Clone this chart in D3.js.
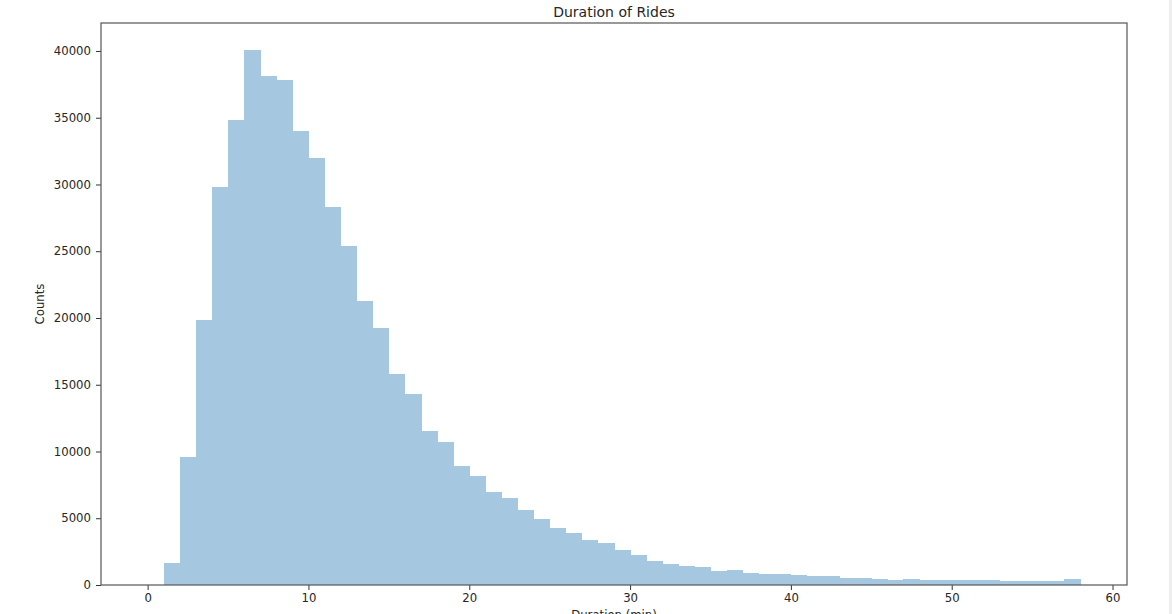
<!DOCTYPE html>
<html>
<head>
<meta charset="utf-8">
<script src="https://cdn.jsdelivr.net/npm/d3@7"></script>
<style>
  body { margin: 0; background: #fff; }
  svg { font-family: "DejaVu Sans", sans-serif; }
</style>
</head>
<body>
<div id="chart"></div>
<script>
// Histogram bins (1 minute wide, lower edge) and counts
var binEdges = [0, 1, 2, 3, 4, 5, 6, 7, 8, 9, 10, 11, 12, 13, 14, 15, 16, 17, 18, 19,
  20, 21, 22, 23, 24, 25, 26, 27, 28, 29, 30, 31, 32, 33, 34, 35, 36, 37, 38, 39,
  40, 41, 42, 43, 44, 45, 46, 47, 48, 49, 50, 51, 52, 53, 54, 55, 56, 57, 58];
var counts = [0, 1680, 9610, 19870, 29840, 34800, 40050, 38150, 37850, 34030,
  31980, 28340, 25420, 21300, 19260, 15830, 14330, 11560, 10740, 8940,
  8190, 6990, 6520, 5620, 4940, 4290, 3890, 3340, 3170, 2590,
  2270, 1800, 1570, 1390, 1320, 1050, 1120, 920, 810, 800,
  750, 640, 640, 550, 550, 450, 380, 470, 380, 370,
  380, 370, 380, 280, 270, 280, 270, 450];
var xTicks = [0, 10, 20, 30, 40, 50, 60];
var yTicks = [0, 5000, 10000, 15000, 20000, 25000, 30000, 35000, 40000];

var width = 1172, height = 614;
var margin = { left: 101, right: 1127, top: 23, bottom: 585 };

var svg = d3.select("#chart").append("svg")
  .attr("width", width)
  .attr("height", height);

// matplotlib style 5% margins around the data
var x = d3.scaleLinear().domain([-2.9, 60.9]).range([margin.left, margin.right]);
var y = d3.scaleLinear().domain([0, 42095]).range([margin.bottom, margin.top]);

var bins = counts.map(function (c, i) {
  return { x0: binEdges[i], x1: binEdges[i + 1], count: c };
});

// Bars
svg.append("g")
  .selectAll("rect")
  .data(bins)
  .enter()
  .append("rect")
  .attr("x", function (d) { return x(d.x0); })
  .attr("width", function (d) { return x(d.x1) - x(d.x0) + 0.5; })
  .attr("y", function (d) { return y(d.count); })
  .attr("height", function (d) { return y(0) - y(d.count); })
  .attr("fill", "#a5c8e0")
  .attr("shape-rendering", "crispEdges");

// X axis
var xAxis = svg.append("g")
  .attr("transform", "translate(0," + margin.bottom + ")")
  .call(d3.axisBottom(x).tickValues(xTicks).tickFormat(d3.format("d"))
    .tickSize(5).tickPadding(4).tickSizeOuter(0));
xAxis.select(".domain").remove();

// Y axis
var yAxis = svg.append("g")
  .attr("transform", "translate(" + margin.left + ",0)")
  .call(d3.axisLeft(y).tickValues(yTicks).tickFormat(d3.format("d"))
    .tickSize(5).tickPadding(5).tickSizeOuter(0));
yAxis.select(".domain").remove();

[xAxis, yAxis].forEach(function (g) {
  g.selectAll("text")
    .style("font-family", "DejaVu Sans, sans-serif")
    .style("font-size", "11.7px")
    .attr("fill", "#262626");
  g.selectAll("line").attr("stroke", "#333").attr("stroke-width", 1);
});

// Frame round the plot area
svg.append("rect")
  .attr("x", margin.left)
  .attr("y", margin.top)
  .attr("width", margin.right - margin.left)
  .attr("height", margin.bottom - margin.top)
  .attr("fill", "none")
  .attr("stroke", "#555")
  .attr("stroke-width", 1.2);

// Title
svg.append("text")
  .attr("x", (margin.left + margin.right) / 2)
  .attr("y", 17)
  .attr("text-anchor", "middle")
  .style("font-size", "14px")
  .attr("fill", "#262626")
  .text("Duration of Rides");

// Axis labels (x label sits at the bottom edge, partly cut off as in the screenshot)
svg.append("text")
  .attr("x", (margin.left + margin.right) / 2)
  .attr("y", 619)
  .attr("text-anchor", "middle")
  .style("font-size", "11.7px")
  .attr("fill", "#262626")
  .text("Duration (min)");

svg.append("text")
  .attr("transform", "translate(44," + ((margin.top + margin.bottom) / 2) + ") rotate(-90)")
  .attr("text-anchor", "middle")
  .style("font-size", "11.7px")
  .attr("fill", "#262626")
  .text("Counts");

// Thin grey edge at the right of the screenshot
svg.append("rect")
  .attr("x", 1169)
  .attr("y", 0)
  .attr("width", 3)
  .attr("height", height)
  .attr("fill", "#eeeeee");
</script>
</body>
</html>
